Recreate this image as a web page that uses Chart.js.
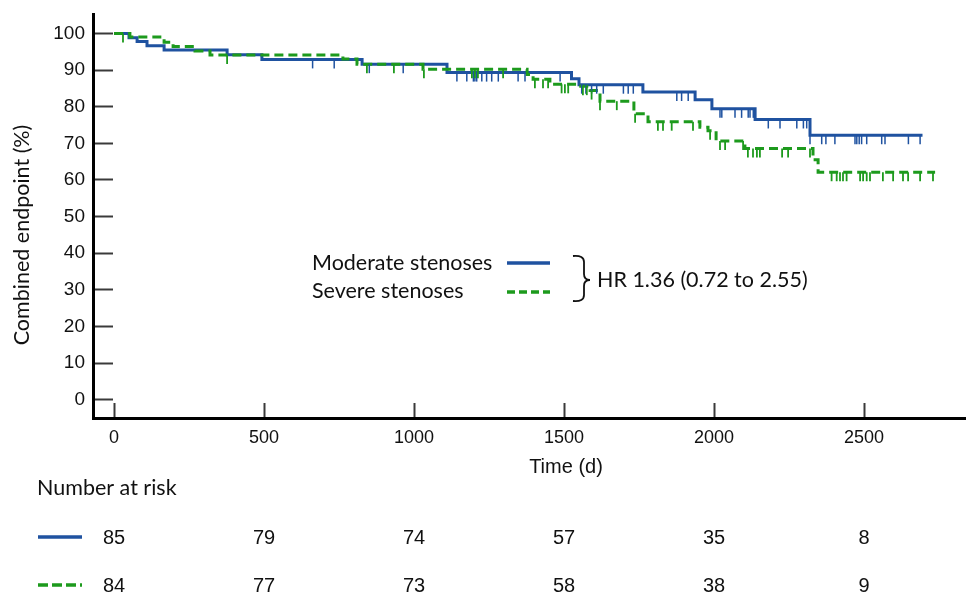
<!DOCTYPE html>
<html><head><meta charset="utf-8">
<script src="https://cdn.jsdelivr.net/npm/chart.js@4.4.1/dist/chart.umd.min.js"></script>
<style>html,body{margin:0;padding:0;background:#fff;overflow:hidden}#wrap{position:relative;width:966px;height:595px}</style>
</head><body><div id="wrap"><canvas id="c" width="966" height="595"></canvas></div>
<script>
// ---- data ----
const seriesNames = ['Moderate stenoses', 'Severe stenoses'];
const hrText = 'HR 1.36 (0.72 to 2.55)';
const xTitle = 'Time (d)';
const yTitle = 'Combined endpoint (%)';
const riskTitle = 'Number at risk';

const moderateTimes = [0, 50, 77, 110, 167, 377, 493, 827, 1110, 1525, 1550, 1763, 1937, 1993, 2137, 2320, 2695];
const moderateSurv  = [100, 98.8, 97.8, 96.6, 95.5, 94.2, 92.9, 91.6, 89.3, 87.6, 86.0, 84.0, 81.9, 79.4, 76.5, 72.2, 72.2];
const moderateCensored = [662, 734, 851, 964, 1143, 1176, 1198, 1203, 1209, 1226, 1242, 1259, 1281, 1347, 1370, 1487,
  1559, 1573, 1592, 1609, 1631, 1698, 1714, 1731, 1876, 1892, 1914, 2020, 2026, 2070, 2092, 2114, 2120, 2131,
  2181, 2220, 2276, 2298, 2309, 2320, 2359, 2373, 2403, 2470, 2476, 2484, 2492, 2509, 2559, 2570, 2648, 2687];

const severeTimes = [0, 53, 167, 197, 270, 320, 763, 810, 1030, 1377, 1397, 1453, 1547, 1587, 1620, 1733, 1780, 1953, 1980, 2007, 2103, 2330, 2347, 2737];
const severeSurv  = [100, 99.0, 97.6, 96.4, 95.2, 94.1, 93.0, 91.6, 90.2, 88.8, 87.5, 86.1, 85.6, 84.4, 81.5, 78.1, 75.9, 74.4, 73.4, 70.6, 68.6, 65.5, 62.1, 62.1];
const severeCensored = [30, 377, 843, 933, 1033, 1193, 1203, 1213, 1297, 1403, 1430, 1447, 1492, 1503, 1514, 1563, 1576,
  1592, 1620, 1676, 1737, 1813, 1830, 1859, 1930, 1987, 2020, 2037, 2097, 2113, 2130, 2143, 2153, 2227, 2247, 2320,
  2392, 2409, 2420, 2430, 2442, 2487, 2497, 2509, 2520, 2563, 2597, 2630, 2647, 2687, 2730];

const xTicks = [0, 500, 1000, 1500, 2000, 2500];
const yTicks = [0, 10, 20, 30, 40, 50, 60, 70, 80, 90, 100];
const riskTimes = [0, 500, 1000, 1500, 2000, 2500];
const riskModerate = [85, 79, 74, 57, 35, 8];
const riskSevere = [84, 77, 73, 58, 38, 9];

// ---- styles ----
const BLUE = '#1f52a0';
const GREEN = '#1d9a1d';
const DASH = [9, 5];
const TEXT_FONT = 'Lato, "Noto Sans", sans-serif';
const NUM_FONT = 'Arial, "Liberation Sans", sans-serif';

function stepValue(times, surv, t) {
  let v = surv[0];
  for (let i = 0; i < times.length; i++) { if (times[i] <= t) v = surv[i]; else break; }
  return v;
}

function seg(ctx, x1, y1, x2, y2, color, w, dash) {
  ctx.save(); ctx.strokeStyle = color; ctx.lineWidth = w; ctx.setLineDash(dash || []);
  ctx.beginPath(); ctx.moveTo(x1, y1); ctx.lineTo(x2, y2); ctx.stroke(); ctx.restore();
}

function noPad(s) { s.paddingTop = 0; s.paddingBottom = 0; s.paddingLeft = 0; s.paddingRight = 0; }

const kmPlugin = {
  id: 'km',
  afterDatasetsDraw(chart) {
    const { ctx, scales: { x, y } } = chart;
    const marks = (times, surv, cens, color, w) => {
      cens.forEach(t => {
        const v = stepValue(times, surv, t);
        const px = x.getPixelForValue(t), py = y.getPixelForValue(v);
        seg(ctx, px, py, px, py + 9, color, w);
      });
    };
    marks(moderateTimes, moderateSurv, moderateCensored, BLUE, 1.5);
    marks(severeTimes, severeSurv, severeCensored, GREEN, 1.8);
  },
  afterDraw(chart) {
    const { ctx, scales: { x } } = chart;
    ctx.save();
    ctx.fillStyle = '#111';
    ctx.textBaseline = 'middle';
    // legend
    ctx.font = '21.5px ' + TEXT_FONT;
    ctx.textAlign = 'left';
    ctx.fillText(seriesNames[0], 312, 263);
    ctx.fillText(seriesNames[1], 312, 291);
    seg(ctx, 507, 263, 550, 263, BLUE, 3.5);
    seg(ctx, 507, 292, 550, 292, GREEN, 3.5, [8, 4]);
    // brace
    ctx.strokeStyle = '#111'; ctx.lineWidth = 1.8;
    ctx.beginPath();
    ctx.moveTo(573, 256);
    ctx.quadraticCurveTo(584, 255, 584, 262);
    ctx.lineTo(584, 274);
    ctx.quadraticCurveTo(584, 280, 590, 280);
    ctx.quadraticCurveTo(584, 280, 584, 286);
    ctx.lineTo(584, 295);
    ctx.quadraticCurveTo(584, 302, 573, 301);
    ctx.stroke();
    ctx.fillText(hrText, 597, 280);
    // risk table
    ctx.fillText(riskTitle, 37, 488);
    seg(ctx, 38, 537, 82, 537, BLUE, 3.5);
    seg(ctx, 38, 585, 82, 585, GREEN, 3.5, [10, 4]);
    ctx.font = '20px ' + NUM_FONT;
    ctx.textAlign = 'center';
    riskTimes.forEach((t, i) => {
      const px = x.getPixelForValue(t);
      ctx.fillText(String(riskModerate[i]), px, 538);
      ctx.fillText(String(riskSevere[i]), px, 586);
    });
    // axis titles
    ctx.fillText(xTitle, 566, 467);
    ctx.font = '21.5px ' + TEXT_FONT;
    ctx.translate(22, 235);
    ctx.rotate(-Math.PI / 2);
    ctx.fillText(yTitle, 0, 0);
    ctx.restore();
  }
};

new Chart(document.getElementById('c'), {
  type: 'line',
  data: {
    datasets: [
      { label: seriesNames[0], data: moderateTimes.map((t, i) => ({ x: t, y: moderateSurv[i] })),
        borderColor: BLUE, borderWidth: 3, stepped: 'before', pointRadius: 0, fill: false, order: 2 },
      { label: seriesNames[1], data: severeTimes.map((t, i) => ({ x: t, y: severeSurv[i] })),
        borderColor: GREEN, borderWidth: 3, borderDash: DASH, stepped: 'before', pointRadius: 0, fill: false, order: 1 }
    ]
  },
  options: {
    responsive: false, animation: false, devicePixelRatio: 1,
    layout: { padding: { left: 0, right: 0, top: 14, bottom: 117 } },
    plugins: { legend: { display: false }, tooltip: { enabled: false } },
    scales: {
      x: {
        type: 'linear', min: -70, max: 2840,
        afterBuildTicks: s => { s.ticks = xTicks.map(v => ({ value: v })); },
        afterFit: s => { s.height = 60; noPad(s); },
        grid: { drawOnChartArea: false, drawTicks: true, tickLength: -15, tickColor: '#3a3a3a', tickWidth: 2 },
        border: { color: '#000', width: 3 },
        ticks: { padding: 24, color: '#111', autoSkip: false, maxRotation: 0, callback: v => String(v),
                 font: { family: NUM_FONT, size: 18 } }
      },
      y: {
        type: 'linear', min: -5, max: 105.3,
        afterBuildTicks: s => { s.ticks = yTicks.map(v => ({ value: v })); },
        afterFit: s => { s.width = 93; noPad(s); },
        grid: { drawOnChartArea: false, drawTicks: true, tickLength: -20, tickColor: '#3a3a3a', tickWidth: 2 },
        border: { color: '#000', width: 3 },
        ticks: { padding: 28, color: '#111', callback: v => String(v), font: { family: NUM_FONT, size: 19 } }
      }
    }
  },
  plugins: [kmPlugin]
});
</script></body></html>
